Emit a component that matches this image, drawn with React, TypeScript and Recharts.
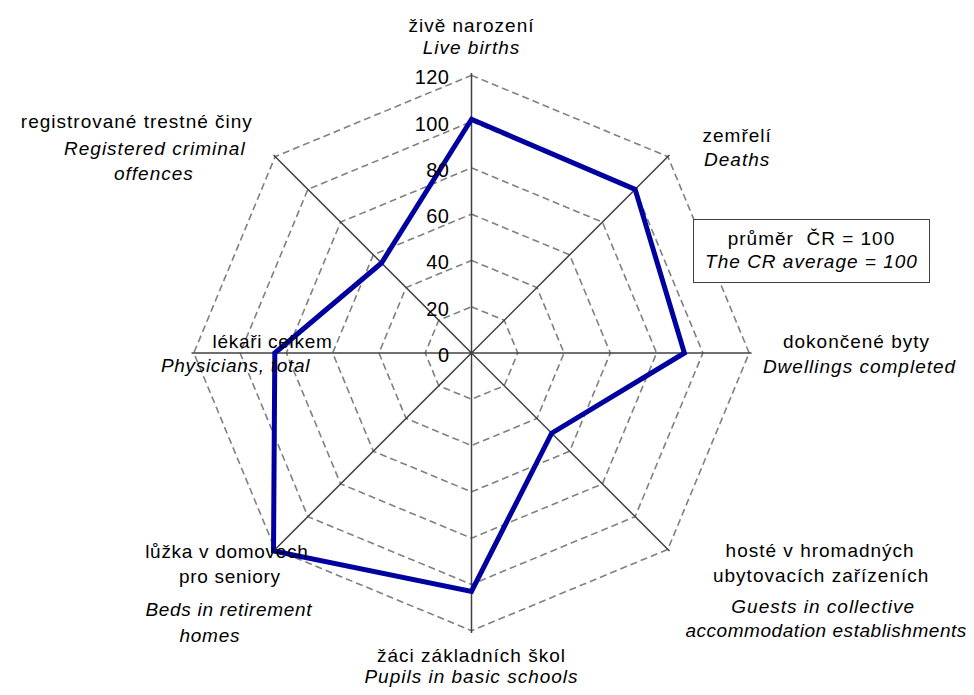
import React from 'react';
import {
  PolarAngleAxis,
  PolarGrid,
  PolarRadiusAxis,
  Radar,
  RadarChart,
} from 'recharts';

// Categories (clockwise from the top)
const categories = [
  'births',
  'deaths',
  'dwellings',
  'guests',
  'pupils',
  'beds',
  'physicians',
  'crimes',
];

// Czech labels (one entry per line)
const czechLabels = [
  ['živě narození'],
  ['zemřelí'],
  ['dokončené byty'],
  ['hosté v hromadných', 'ubytovacích zařízeních'],
  ['žáci základních škol'],
  ['lůžka v domovech', 'pro seniory'],
  ['lékaři celkem'],
  ['registrované trestné činy'],
];

// English labels (one entry per line)
const englishLabels = [
  ['Live births'],
  ['Deaths'],
  ['Dwellings completed'],
  ['Guests in collective', 'accommodation establishments'],
  ['Pupils in basic schools'],
  ['Beds in retirement', 'homes'],
  ['Physicians, total'],
  ['Registered criminal', 'offences'],
];

// Index values, CR average = 100
const values = [101, 100, 92, 49, 103, 121, 85, 55];

const radiusTicks = [0, 20, 40, 60, 80, 100, 120];

// Label placement relative to each angle tick point: [dx, dy, letterSpacing] per line
const labelOffsets: number[][][] = [
  [[0, -33, 1], [0, -11, 1]],
  [[62, -7, 1], [62, 17, 1]],
  [[97, -5, 1], [100, 20, 1]],
  [[145, 0, 1], [146, 25, 1], [148, 56, 1], [151, 80, 0.55]],
  [[0, 21, 1], [0, 42, 1]],
  [[-41, 1, 0.7], [-38, 26, 0.7], [-39, 59, 0.7], [-58, 85, 0.7]],
  [[89, -5, 0.7], [52, 19, 0.7]],
  [[-131, -21, 1], [-113, 6, 1], [-114, 31, 1]],
];

const chartData = categories.map((name, i) => ({ name, value: values[i] }));

const FONT = '"Liberation Sans", Arial, sans-serif';

const AngleTick = (props: any) => {
  const { x, y, index } = props;
  const lines = [
    ...czechLabels[index].map((t) => ({ t, italic: false })),
    ...englishLabels[index].map((t) => ({ t, italic: true })),
  ];
  return (
    <g>
      {lines.map((line, i) => (
        <text
          key={i}
          x={x + labelOffsets[index][i][0]}
          y={y + labelOffsets[index][i][1]}
          textAnchor="middle"
          fontSize={19}
          letterSpacing={labelOffsets[index][i][2]}
          fontStyle={line.italic ? 'italic' : 'normal'}
          fontFamily={FONT}
          fill="#000"
        >
          {line.t}
        </text>
      ))}
    </g>
  );
};

const RadiusTick = (props: any) => {
  const { x, y, payload } = props;
  return (
    <text
      x={x - 22}
      y={y + 9}
      textAnchor="end"
      fontSize={20}
      letterSpacing={0.5}
      fontFamily={FONT}
      fill="#000"
    >
      {payload.value}
    </text>
  );
};

const App: React.FC = () => {
  return (
    <div style={{ position: 'relative', width: 958, height: 687, fontFamily: FONT }}>
      <RadarChart
        width={958}
        height={687}
        data={chartData}
        cx={463.5}
        cy={345}
        outerRadius={280}
        startAngle={90}
        endAngle={-270}
        margin={{ top: 0, right: 0, bottom: 0, left: 0 }}
      >
        {/* dashed rings */}
        <PolarGrid
          gridType="polygon"
          radialLines={false}
          stroke="#808080"
          strokeWidth={1.6}
          strokeDasharray="7 4"
        />
        {/* solid spokes */}
        <PolarGrid gridType="polygon" polarRadius={[0]} stroke="#404040" strokeWidth={1.5} />
        <PolarAngleAxis
          dataKey="name"
          tick={<AngleTick />}
          tickLine={false}
          axisLine={false}
          tickSize={8}
        />
        <PolarRadiusAxis
          angle={90}
          domain={[0, 120]}
          ticks={radiusTicks}
          tickCount={7}
          axisLine={false}
          tickLine={false}
          tick={<RadiusTick />}
        />
        <Radar
          dataKey="value"
          stroke="#0000A0"
          strokeWidth={5}
          fill="none"
          fillOpacity={0}
          dot={false}
          isAnimationActive={false}
        />
      </RadarChart>

      {/* Legend box */}
      <div
        style={{
          position: 'absolute',
          left: 685,
          top: 211,
          width: 237,
          height: 64,
          boxSizing: 'border-box',
          border: '1.5px solid #404040',
          background: '#fff',
          textAlign: 'center',
          fontSize: 19,
          letterSpacing: 1,
          lineHeight: '23px',
          paddingTop: 7,
        }}
      >
        <div>průměr&nbsp; ČR = 100</div>
        <div style={{ fontStyle: 'italic' }}>The CR average = 100</div>
      </div>
    </div>
  );
};

export default App;
